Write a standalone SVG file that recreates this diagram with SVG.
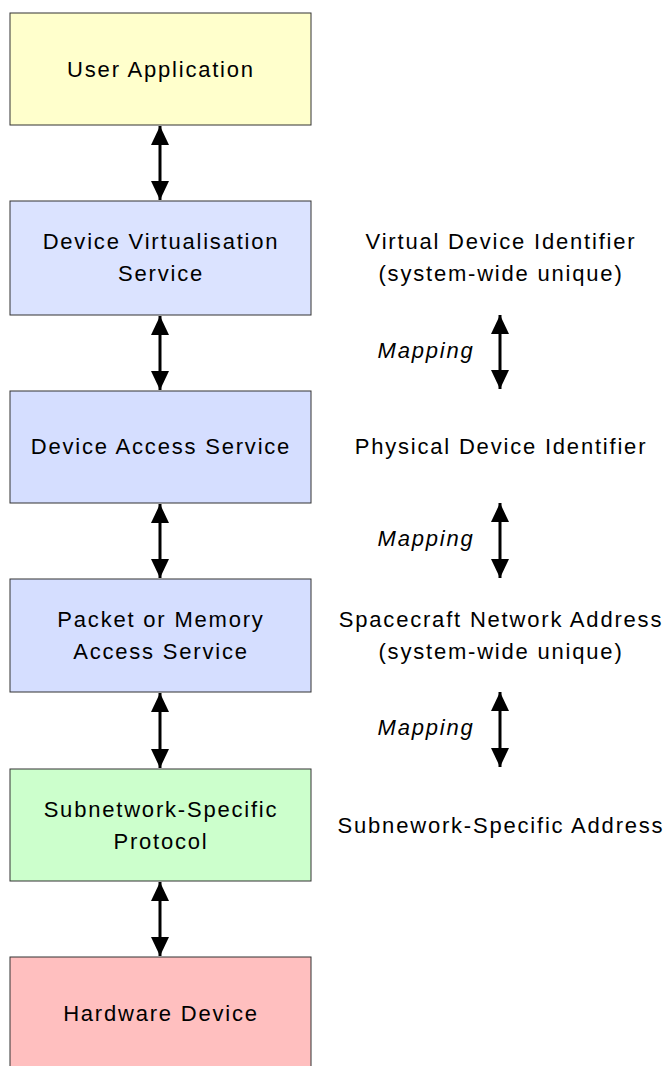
<svg xmlns="http://www.w3.org/2000/svg" width="668" height="1066" viewBox="0 0 668 1066">
<style>
.box{stroke:#333;stroke-width:1}
.t{font-family:"Liberation Sans",Arial,sans-serif;font-size:22px;letter-spacing:1.8px;fill:#000;text-anchor:middle}
.m{font-style:italic}
.c{stroke:#000;stroke-width:3;fill:none;marker-start:url(#ah);marker-end:url(#ah)}
</style>
<defs>
<marker id="ah" viewBox="0 0 20 20" refX="19" refY="10" markerWidth="20" markerHeight="20" markerUnits="userSpaceOnUse" orient="auto-start-reverse">
<path d="M0,1 L19,10 L0,19 Z" fill="#000"/>
</marker>
</defs>
<rect width="668" height="1066" fill="#fff"/>
<g id="n1"><rect class="box" x="10" y="13" width="301" height="112" fill="#ffffcc"/><text class="t" x="161" y="77">User Application</text></g>
<g id="n2"><rect class="box" x="10" y="201" width="301" height="114" fill="#dbe3ff"/><text class="t" x="161" y="249">Device Virtualisation</text><text class="t" x="161" y="281">Service</text></g>
<g id="n3"><rect class="box" x="10" y="391" width="301" height="112" fill="#d5deff"/><text class="t" x="161" y="454">Device Access Service</text></g>
<g id="n4"><rect class="box" x="10" y="579" width="301" height="113" fill="#d5deff"/><text class="t" x="161" y="627">Packet or Memory</text><text class="t" x="161" y="659">Access Service</text></g>
<g id="n5"><rect class="box" x="10" y="769" width="301" height="112" fill="#ccffcc"/><text class="t" x="161" y="817">Subnetwork-Specific</text><text class="t" x="161" y="849">Protocol</text></g>
<g id="n6"><rect class="box" x="10" y="957" width="301" height="120" fill="#ffbfbf"/><text class="t" x="161" y="1021">Hardware Device</text></g>
<g id="labels">
<text class="t" x="501" y="249">Virtual Device Identifier</text>
<text class="t" x="501" y="281">(system-wide unique)</text>
<text class="t" x="501" y="454">Physical Device Identifier</text>
<text class="t" x="501" y="627">Spacecraft Network Address</text>
<text class="t" x="501" y="659">(system-wide unique)</text>
<text class="t" x="501" y="833">Subnework-Specific Address</text>
<text class="t m" x="426" y="358">Mapping</text>
<text class="t m" x="426" y="546">Mapping</text>
<text class="t m" x="426" y="735">Mapping</text>
</g>
<g id="connectors">
<line class="c" x1="160" y1="126" x2="160" y2="200"/>
<line class="c" x1="160" y1="316" x2="160" y2="390"/>
<line class="c" x1="160" y1="504" x2="160" y2="578"/>
<line class="c" x1="160" y1="693" x2="160" y2="768"/>
<line class="c" x1="160" y1="882" x2="160" y2="956"/>
<line class="c" x1="500" y1="315" x2="500" y2="389"/>
<line class="c" x1="500" y1="503" x2="500" y2="578"/>
<line class="c" x1="500" y1="692" x2="500" y2="767"/>
</g>
</svg>
